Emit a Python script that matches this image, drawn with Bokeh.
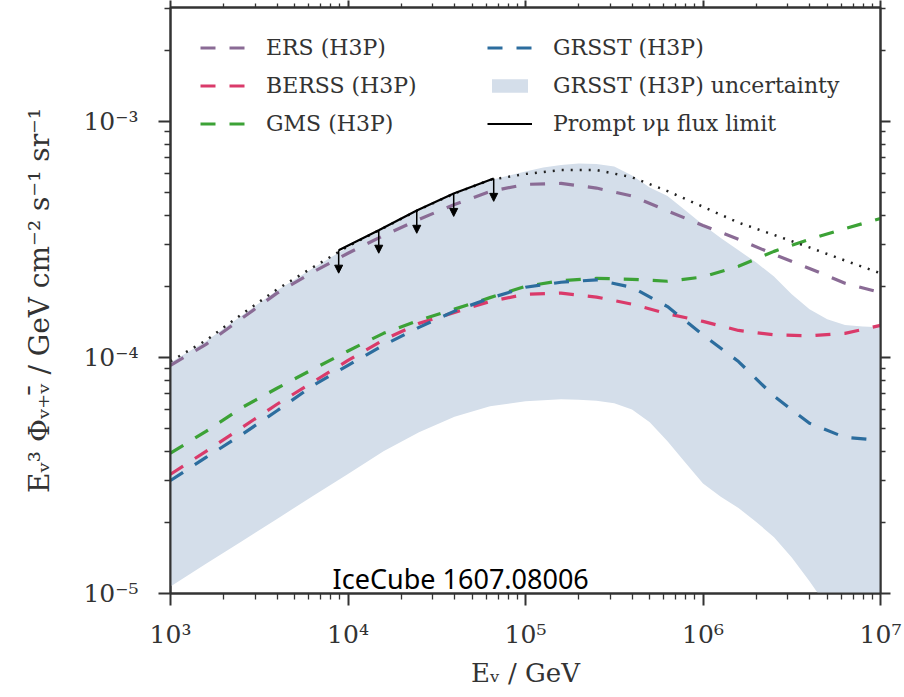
import numpy as np
from bokeh.plotting import figure
from bokeh.models import (LogAxis, FixedTicker, CustomJSTickFormatter, Legend, LegendItem,
                          Arrow, NormalHead, ColumnDataSource, Label, Range1d)
from bokeh.embed import file_html
from bokeh.resources import INLINE

# ---------------- data ----------------
energy = [1.0e3, 1.585e3, 2.512e3, 3.981e3, 6.310e3, 1.0e4, 1.585e4, 2.512e4, 3.981e4, 6.310e4,
          1.0e5, 1.585e5, 2.512e5, 3.981e5, 6.310e5, 1.0e6, 1.585e6, 2.512e6, 3.981e6, 6.310e6, 1.0e7]

ers = [9.25e-5, 1.135e-4, 1.46e-4, 1.87e-4, 2.29e-4, 2.76e-4, 3.28e-4, 3.84e-4, 4.44e-4, 5.04e-4,
       5.40e-4, 5.45e-4, 5.21e-4, 4.82e-4, 4.17e-4, 3.62e-4, 3.16e-4, 2.73e-4, 2.38e-4, 2.06e-4, 1.88e-4]
berss = [3.20e-5, 4.00e-5, 5.03e-5, 6.33e-5, 7.84e-5, 9.71e-5, 1.185e-4, 1.393e-4, 1.55e-4, 1.725e-4,
         1.85e-4, 1.87e-4, 1.80e-4, 1.68e-4, 1.53e-4, 1.42e-4, 1.30e-4, 1.245e-4, 1.233e-4, 1.264e-4, 1.365e-4]
gms = [3.93e-5, 4.86e-5, 6.11e-5, 7.40e-5, 8.89e-5, 1.064e-4, 1.264e-4, 1.435e-4, 1.60e-4, 1.79e-4,
       2.00e-4, 2.11e-4, 2.16e-4, 2.14e-4, 2.10e-4, 2.19e-4, 2.43e-4, 2.81e-4, 3.16e-4, 3.51e-4, 3.87e-4]
grsst = [3.01e-5, 3.77e-5, 4.70e-5, 5.94e-5, 7.57e-5, 9.25e-5, 1.125e-4, 1.34e-4, 1.57e-4, 1.78e-4,
         1.98e-4, 2.08e-4, 2.13e-4, 1.98e-4, 1.64e-4, 1.245e-4, 9.6e-5, 6.85e-5, 5.26e-5, 4.58e-5, 4.45e-5]
dotted_ref = [9.62e-5, 1.18e-4, 1.52e-4, 1.94e-4, 2.40e-4, 2.95e-4, 3.53e-4, 4.22e-4, 4.94e-4, 5.64e-4,
              5.98e-4, 6.21e-4, 6.21e-4, 5.79e-4, 5.06e-4, 4.34e-4, 3.72e-4, 3.30e-4, 2.92e-4, 2.57e-4, 2.27e-4]

band_energy = [1.0e3, 1.585e3, 2.512e3, 3.981e3, 6.310e3, 1.0e4, 1.585e4, 2.512e4, 3.981e4, 6.310e4,
               1.0e5, 1.259e5, 1.585e5, 1.995e5, 2.512e5, 3.162e5, 3.981e5, 5.012e5, 6.310e5, 7.943e5,
               1.0e6, 1.259e6, 1.585e6, 1.995e6, 2.512e6, 3.162e6, 3.981e6, 5.012e6, 6.310e6, 7.943e6, 1.0e7]
band_upper = [9.5e-5, 1.17e-4, 1.50e-4, 1.92e-4, 2.38e-4, 2.93e-4, 3.51e-4, 4.20e-4, 4.92e-4, 5.62e-4,
              6.12e-4, 6.37e-4, 6.53e-4, 6.62e-4, 6.59e-4, 6.43e-4, 5.89e-4, 5.24e-4, 4.82e-4, 4.20e-4,
              3.64e-4, 3.20e-4, 2.84e-4, 2.52e-4, 2.20e-4, 1.85e-4, 1.60e-4, 1.45e-4, 1.37e-4, 1.35e-4, 1.34e-4]
band_lower = [1.07e-5, 1.335e-5, 1.66e-5, 2.07e-5, 2.58e-5, 3.21e-5, 4.00e-5, 4.82e-5, 5.60e-5, 6.21e-5,
              6.51e-5, 6.58e-5, 6.64e-5, 6.61e-5, 6.55e-5, 6.39e-5, 6.02e-5, 5.31e-5, 4.41e-5, 3.59e-5,
              2.92e-5, 2.57e-5, 2.30e-5, 2.01e-5, 1.73e-5, 1.42e-5, 1.127e-5, 8.8e-6, 7.0e-6, 5.5e-6, 4.3e-6]

limit_energy = [8.86e3, 1.49e4, 2.44e4, 3.94e4, 6.62e4]
limit_flux = [2.84e-4, 3.45e-4, 4.19e-4, 4.94e-4, 5.72e-4]

x_major = [1e3, 1e4, 1e5, 1e6, 1e7]
y_major = [1e-5, 1e-4, 1e-3]

# ---------------- styling ----------------
C_ERS = "#8a6b95"
C_BERSS = "#da3a6a"
C_GMS = "#3ca236"
C_GRSST = "#2c6d9e"
C_BAND = "#d4deea"
SERIF = "DejaVu Serif"
DASH = "15 14"

x_minor = [k * d for d in [1e3, 1e4, 1e5, 1e6] for k in range(2, 10)]
y_minor = [k * d for d in [1e-5, 1e-4, 1e-3] for k in range(2, 10)]

p = figure(width=904, height=697, x_axis_type="log", y_axis_type="log",
           x_range=Range1d(1e3, 1e7), y_range=Range1d(1e-5, 3.03e-3),
           output_backend="svg", toolbar_location=None,
           min_border_left=170, min_border_right=24, min_border_top=7, min_border_bottom=104)
p.grid.visible = False
p.outline_line_color = "#333333"
p.outline_line_width = 2
p.background_fill_color = "white"

fmt_code = """
const e = Math.round(Math.log10(tick));
const m = {'-':'\u207b','0':'\u2070','1':'\u00b9','2':'\u00b2','3':'\u00b3','4':'\u2074',
           '5':'\u2075','6':'\u2076','7':'\u2077','8':'\u2078','9':'\u2079'};
return '10' + String(e).split('').map(c => m[c]).join('');
"""

def style_axis(ax, major, minor, tick_out, minor_out, show_labels):
    ax.ticker = FixedTicker(ticks=major, minor_ticks=minor)
    ax.axis_line_color = "#333333"
    ax.axis_line_width = 2
    ax.major_tick_line_color = "#333333"
    ax.minor_tick_line_color = "#333333"
    ax.major_tick_line_width = 2
    ax.minor_tick_line_width = 1.3
    ax.major_tick_out = tick_out
    ax.major_tick_in = 0
    ax.minor_tick_out = minor_out
    ax.minor_tick_in = 0
    if show_labels:
        ax.formatter = CustomJSTickFormatter(code=fmt_code)
        ax.major_label_text_font = SERIF
        ax.major_label_text_font_size = "25px"
        ax.major_label_text_color = "#333333"
    else:
        ax.formatter = CustomJSTickFormatter(code="return '';")
        ax.major_label_text_font_size = "0px"
        ax.major_label_standoff = 0

xa = p.xaxis[0]
ya = p.yaxis[0]
style_axis(xa, x_major, x_minor, 12, 6, True)
style_axis(ya, y_major, y_minor, 12, 6, True)
xa.major_label_standoff = 14
ya.major_label_standoff = 20
xa.axis_label = "E\u1d65 / GeV"
ya.axis_label = "E\u1d65\u00b3 \u03a6\u1d65\u208a\u1d65\u0304 / GeV cm\u207b\u00b2 s\u207b\u00b9 sr\u207b\u00b9"
for ax in (xa, ya):
    ax.axis_label_text_font = SERIF
    ax.axis_label_text_font_style = "normal"
    ax.axis_label_text_color = "#333333"
xa.axis_label_text_font_size = "26px"
ya.axis_label_text_font_size = "28px"
xa.axis_label_standoff = 6
ya.axis_label_standoff = 24

top = LogAxis()
style_axis(top, x_major, x_minor, 7, 4, False)
p.add_layout(top, "above")
right = LogAxis()
style_axis(right, y_major, y_minor, 10, 5, False)
p.add_layout(right, "right")

# ---------------- glyphs ----------------
r_band = p.varea(x=band_energy, y1=band_lower, y2=band_upper, fill_color=C_BAND, fill_alpha=1.0)
r_ers = p.line(energy, ers, line_color=C_ERS, line_width=3.2, line_dash=DASH)
r_berss = p.line(energy, berss, line_color=C_BERSS, line_width=3.2, line_dash=DASH)
r_gms = p.line(energy, gms, line_color=C_GMS, line_width=3.2, line_dash=DASH)
r_grsst = p.line(energy, grsst, line_color=C_GRSST, line_width=3.2, line_dash=DASH)
r_dot = p.line(energy, dotted_ref, line_color="#222222", line_width=2.5, line_dash="2 7")
r_lim = p.line(limit_energy, limit_flux, line_color="black", line_width=2.2)

arrow_src = ColumnDataSource(dict(x0=limit_energy, y0=limit_flux,
                                  x1=limit_energy, y1=[f * 0.80 for f in limit_flux]))
p.add_layout(Arrow(end=NormalHead(size=8, fill_color="black", line_color="black", line_width=1),
                   x_start="x0", y_start="y0", x_end="x1", y_end="y1",
                   line_color="black", line_width=1.5, source=arrow_src))

p.add_layout(Label(x=8.19e3, y=1.16e-5, text="IceCube 1607.08006", text_font="Noto Sans",
                   text_font_size="27px", text_color="black", text_baseline="alphabetic"))

# ---------------- legends ----------------
def make_legend(items, loc):
    lg = Legend(items=items, location=loc, orientation="vertical")
    lg.label_text_font = SERIF
    lg.label_text_font_size = "22px"
    lg.label_text_color = "#333333"
    lg.glyph_width = 45
    lg.glyph_height = 17
    lg.label_height = 20
    lg.label_standoff = 21
    lg.spacing = 13
    lg.padding = 5
    lg.margin = 0
    lg.border_line_alpha = 0
    lg.background_fill_alpha = 0
    return lg

leg1 = make_legend([LegendItem(label="ERS (H3P)", renderers=[r_ers]),
                    LegendItem(label="BERSS (H3P)", renderers=[r_berss]),
                    LegendItem(label="GMS (H3P)", renderers=[r_gms])], (25, 452))
leg2 = make_legend([LegendItem(label="GRSST (H3P)", renderers=[r_grsst]),
                    LegendItem(label="GRSST (H3P) uncertainty", renderers=[r_band]),
                    LegendItem(label="Prompt \u03bd\u03bc flux limit", renderers=[r_lim])], (312, 452))
p.add_layout(leg1)
p.add_layout(leg2)

open("out.html", "w").write(file_html(p, INLINE))
